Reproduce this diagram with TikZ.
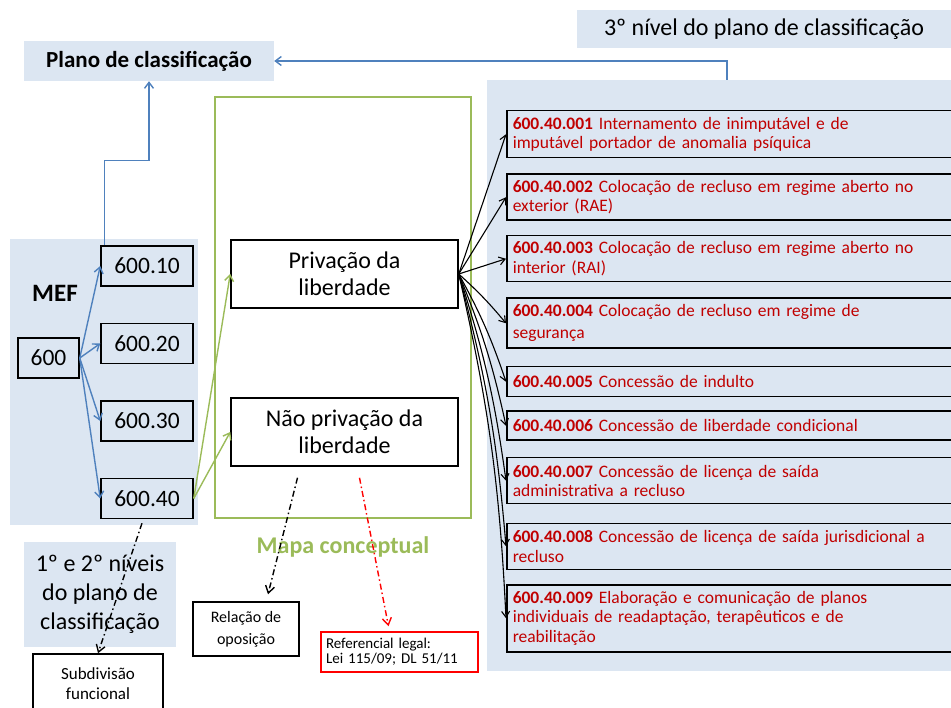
\documentclass[tikz,border=0pt]{standalone}
\usepackage{fontspec}
\setmainfont{Carlito}
\usetikzlibrary{arrows.meta,positioning}
\definecolor{paneBlue}{HTML}{DCE6F2}
\definecolor{lineBlue}{HTML}{4F81BD}
\definecolor{mapGreen}{HTML}{9BBB59}
\definecolor{codeRed}{HTML}{C00000}
\tikzset{
    pane/.style={
        rectangle,
        fill=paneBlue,
        inner sep=0pt
    },
    codebox/.style={
        rectangle,
        draw=black,
        line width=1.5pt,
        align=center,
        minimum width=92pt,
        minimum height=40pt,
        font=\fontsize{23.5}{26}\selectfont
    },
    conceptbox/.style={
        rectangle,
        draw=black,
        line width=1.5pt,
        align=center,
        minimum width=227pt,
        minimum height=68pt,
        font=\fontsize{24}{27}\selectfont
    },
    itembox/.style={
        rectangle,
        draw=black,
        line width=1.5pt,
        align=left,
        text width=448pt,
        inner xsep=6pt,
        inner ysep=2pt,
        text=codeRed,
        font=\fontsize{17.5}{19.5}\selectfont
    },
    notebox/.style={
        rectangle,
        draw=black,
        line width=1.5pt,
        align=center
    },
    treearrow/.style={-{Straight Barb[length=6pt,width=9pt]},line width=1.4pt,draw=lineBlue},
    maparrow/.style={-{Straight Barb[length=6pt,width=9pt]},line width=1.4pt,draw=mapGreen},
    fanarrow/.style={-{Straight Barb[length=6pt,width=8pt]},line width=1.1pt,draw=black},
    linkarrow/.style={-{Straight Barb[length=7pt,width=9pt]},line width=1.4pt,
        dash pattern=on 6pt off 3pt on 1.5pt off 3pt}
}
\begin{document}
\begin{tikzpicture}[x=1pt,y=-1pt]
    \clip (0,0) rectangle (951,708);
    % background panes
    \node[pane, minimum width=188pt, minimum height=286pt] (mefpane) at (104,382) {};
    \node[pane, minimum width=464pt, minimum height=591pt] (rpane) at (719,375.5) {};
    \node[pane, minimum width=250pt, minimum height=40pt,
        font=\bfseries\fontsize{23}{26}\selectfont] (plano) at (149,61)
        {Plano de classificação};
    \node[pane, minimum width=374pt, minimum height=38pt,
        font=\fontsize{24}{26}\selectfont] (level3) at (764,29)
        {3º nível do plano de classificação};
    \node[pane, minimum width=152pt, minimum height=105pt, align=center,
        font=\fontsize{24}{29}\selectfont] (levels) at (100,594.5)
        {1º e 2º níveis\\do plano de\\classificação};

    % MEF tree
    \node[font=\bfseries\fontsize{25}{28}\selectfont] (mef) at (55,293) {MEF};
    \node[codebox, minimum width=61pt] (n600) at (48.5,358) {600};
    \node[codebox] (n10) at (147,266) {600.10};
    \node[codebox, below=36pt of n10] (n20) {600.20};
    \node[codebox, below=36pt of n20] (n30) {600.30};
    \node[codebox, below=36pt of n30] (n40) {600.40};

    % conceptual map
    \node[draw=mapGreen, line width=1.5pt, minimum width=256pt,
        minimum height=421pt] (mapframe) at (343,307.5) {};
    \node[conceptbox] (priv) at (344.5,274) {Privação da\\liberdade};
    \node[conceptbox] (nonpriv) at (344.5,432) {Não privação da\\liberdade};
    \node[text=mapGreen, font=\bfseries\fontsize{24}{26}\selectfont] (mapa)
        at (343,547) {Mapa conceptual};

    % third level
    \node[itembox, minimum height=47pt, anchor=north west] (i1) at (506,110)
        {\textbf{600.40.001} Internamento de inimputável e de\\imputável portador de anomalia psíquica};
    \node[itembox, minimum height=46pt, below=15pt of i1] (i2)
        {\textbf{600.40.002} Colocação de recluso em regime aberto no\\exterior (RAE)};
    \node[itembox, minimum height=46pt, below=14pt of i2] (i3)
        {\textbf{600.40.003} Colocação de recluso em regime aberto no\\interior (RAI)};
    \node[itembox, minimum height=50pt, below=15pt of i3,
        font=\fontsize{17.5}{22}\selectfont] (i4)
        {\textbf{600.40.004} Colocação de recluso em regime de\\segurança};
    \node[itembox, minimum height=30pt, below=17pt of i4] (i5)
        {\textbf{600.40.005} Concessão de indulto};
    \node[itembox, minimum height=29pt, below=13pt of i5] (i6)
        {\textbf{600.40.006} Concessão de liberdade condicional};
    \node[itembox, minimum height=46pt, below=16pt of i6] (i7)
        {\textbf{600.40.007} Concessão de licença de saída\\administrativa a recluso};
    \node[itembox, minimum height=46pt, below=18pt of i7] (i8)
        {\textbf{600.40.008} Concessão de licença de saída jurisdicional a\\recluso};
    \node[itembox, minimum height=67pt, below=14pt of i8] (i9)
        {\textbf{600.40.009} Elaboração e comunicação de planos\\individuais de readaptação, terapêuticos e de\\reabilitação};

    % notes
    \node[notebox, minimum width=130pt, minimum height=60pt,
        font=\fontsize{17}{20}\selectfont] (subdiv) at (98,684)
        {Subdivisão\\funcional};
    \node[notebox, minimum width=106pt, minimum height=54pt,
        font=\fontsize{16}{22}\selectfont] (rel) at (246,629)
        {Relação de\\oposição};
    \node[notebox, draw=red, align=left, minimum width=157pt, minimum height=40pt,
        text width=147pt, inner xsep=5pt, font=\fontsize{15}{15}\selectfont] (legal) at (399.5,652)
        {Referencial legal:\\Lei 115/09; DL 51/11};

    \draw[treearrow] (n600.east) -- (n10.west);
    \draw[treearrow] (n600.east) -- (n20.west);
    \draw[treearrow] (n600.east) -- (n30.west);
    \draw[treearrow] (n600.east) -- (n40.west);
    \draw[treearrow] ([xshift=4pt]n10.north west) -- ++(0,-85) -| (plano.south);
    \draw[treearrow] ([xshift=8pt]rpane.north) |- (plano.east);

    \draw[maparrow] (n40.east) -- (priv.west);
    \draw[maparrow] (n40.east) -- (nonpriv.west);

    \draw[fanarrow] (priv.east) -- (i1.west);
    \draw[fanarrow] (priv.east) -- (i2.west);
    \draw[fanarrow] (priv.east) -- (i3.west);
    \draw[fanarrow] (priv.east) to[bend left=4] (i4.west);
    \draw[fanarrow] (priv.east) to[bend left=5] (i5.west);
    \draw[fanarrow] (priv.east) to[bend left=5] (i6.west);
    \draw[fanarrow] (priv.east) to[bend left=5] (i7.west);
    \draw[fanarrow] (priv.east) to[bend left=5] (i8.west);
    \draw[fanarrow] (priv.east) to[bend left=5] (i9.west);

    \draw[linkarrow] ([xshift=-5pt,yshift=-4pt]n40.south) -- (subdiv.north);
    \draw[linkarrow] ([xshift=-47pt,yshift=-11pt]nonpriv.south) -- ([xshift=22pt,yshift=7pt]rel.north);
    \draw[linkarrow, draw=red] ([xshift=15pt,yshift=-11pt]nonpriv.south) -- ([xshift=-11pt,yshift=5pt]legal.north);
\end{tikzpicture}
\end{document}
